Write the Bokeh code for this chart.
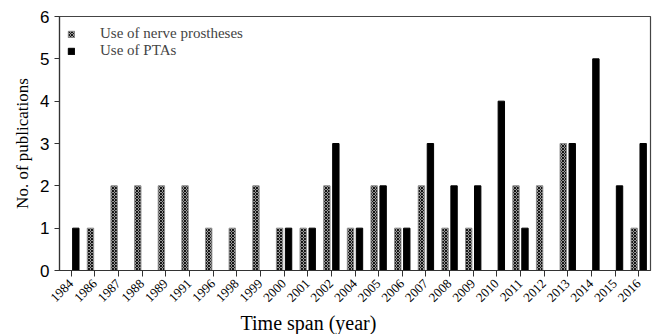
from bokeh.plotting import figure
from bokeh.models import ColumnDataSource, FactorRange, Legend, LegendItem, FixedTicker, Title
from bokeh.transform import dodge
from bokeh.embed import file_html
from bokeh.resources import INLINE

years = ["1984", "1986", "1987", "1988", "1989", "1991", "1996", "1998", "1999", "2000",
         "2001", "2002", "2004", "2005", "2006", "2007", "2008", "2009", "2010", "2011",
         "2012", "2013", "2014", "2015", "2016"]
nerve_prostheses = [0, 1, 2, 2, 2, 2, 1, 1, 2, 1, 1, 2, 1, 2, 1, 2, 1, 1, 0, 2, 2, 3, 0, 0, 1]
ptas = [1, 0, 0, 0, 0, 0, 0, 0, 0, 1, 1, 3, 1, 2, 1, 3, 2, 2, 4, 1, 0, 3, 5, 2, 3]
y_ticks = [0, 1, 2, 3, 4, 5, 6]

src = ColumnDataSource(dict(year=years, nerve=nerve_prostheses, pta=ptas))

p = figure(x_range=FactorRange(*years, range_padding=0), y_range=(0, 6),
           width=654, height=334, output_backend="svg", toolbar_location=None,
           min_border_left=59, min_border_right=4, min_border_top=16, min_border_bottom=0)

r1 = p.vbar(x=dodge("year", -0.19, range=p.x_range), top="nerve", width=0.27, source=src,
            fill_color="#d8d8d8", line_color="#8a8a8a", line_width=1,
            hatch_pattern="diagonal_cross", hatch_scale=3, hatch_weight=1.2, hatch_color="#111111")
r2 = p.vbar(x=dodge("year", 0.19, range=p.x_range), top="pta", width=0.27, source=src,
            fill_color="black", line_color="black", line_width=1)

legend = Legend(items=[LegendItem(label="Use of nerve prostheses", renderers=[r1]),
                       LegendItem(label="Use of PTAs", renderers=[r2])],
                location=(8, 211), border_line_color=None, background_fill_alpha=0,
                glyph_width=8, glyph_height=8, label_standoff=25, spacing=-5,
                margin=0, padding=5,
                label_text_font="Liberation Serif", label_text_font_size="15px",
                label_height=14)
p.add_layout(legend)

p.grid.visible = False
p.outline_line_color = "#444444"
p.outline_line_width = 1.2

p.yaxis.ticker = FixedTicker(ticks=y_ticks)
p.yaxis.axis_label = "No. of publications"
p.yaxis.axis_label_text_font = "Liberation Serif"
p.yaxis.axis_label_text_font_size = "17px"
p.yaxis.axis_label_text_font_style = "normal"
p.yaxis.major_label_text_font = "Liberation Sans"
p.yaxis.major_label_text_font_size = "17px"
p.yaxis.minor_tick_line_color = None
p.yaxis.major_tick_in = 0
p.yaxis.major_tick_out = 5

p.xaxis.major_label_orientation = 0.785
p.xaxis.major_label_text_font = "Liberation Serif"
p.xaxis.major_label_text_font_size = "13px"
p.xaxis.major_tick_in = 0
p.xaxis.major_tick_out = 6
p.xaxis.group_text_font_size = "0px"

xlabel = Title(text="Time span (year)", align="left", offset=181,
               text_font="Liberation Serif", text_font_size="20px",
               text_font_style="normal", text_color="black", standoff=2)
p.add_layout(xlabel, "below")

for ax in (p.xaxis, p.yaxis):
    ax.axis_line_color = "#333333"
    ax.axis_line_width = 1.2
    ax.major_tick_line_color = "#333333"
    ax.major_label_text_color = "black"
    ax.axis_label_text_color = "black"

p.background_fill_color = "white"

open("out.html", "w").write(file_html(p, INLINE))
